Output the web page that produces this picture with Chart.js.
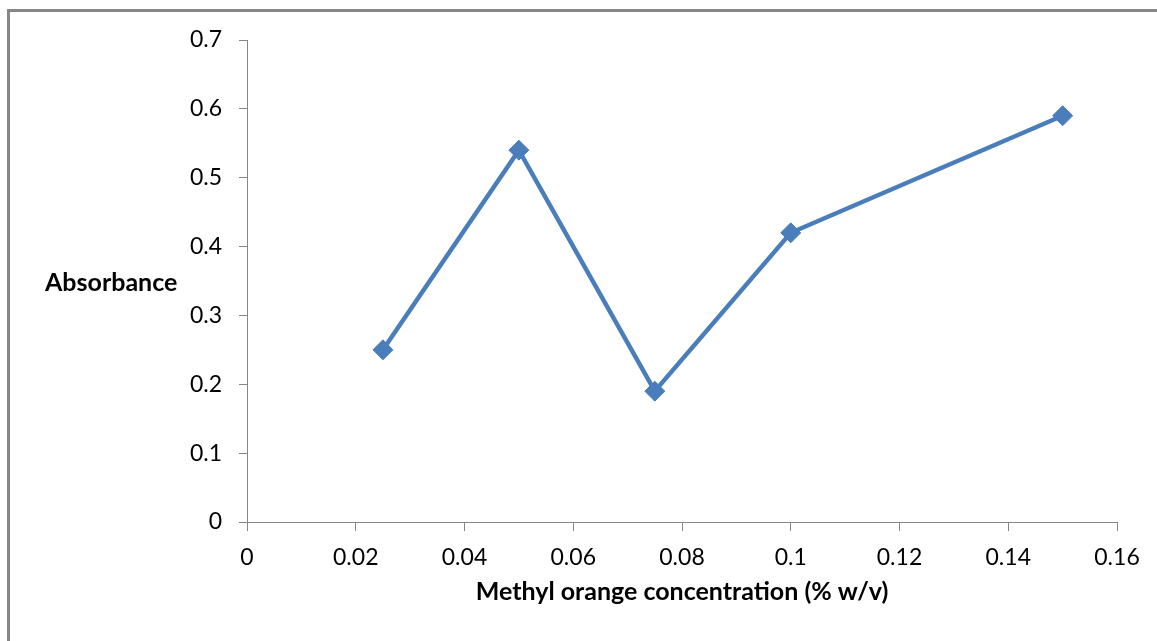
<!DOCTYPE html>
<html lang="en">
<head>
    <meta charset="UTF-8">
    <title>Absorbance vs Methyl orange concentration</title>
    <script src="https://cdn.jsdelivr.net/npm/chart.js@4.4.1/dist/chart.umd.min.js"></script>
    <style>
        html, body { margin: 0; padding: 0; background: #fff; }
        #wrap { position: relative; width: 1157px; height: 641px; }
        #frame {
            position: absolute; left: 7px; top: 9px; right: 0; bottom: 0;
            border-top: 3px solid #868686; border-left: 3px solid #868686;
            pointer-events: none;
        }
    </style>
</head>
<body>
<div id="wrap">
    <canvas id="chart"></canvas>
    <div id="frame"></div>
</div>
<script>
    // values
    const concentrations = [0.025, 0.05, 0.075, 0.1, 0.15]
    const absorbances = [0.25, 0.54, 0.19, 0.42, 0.59]

    const xTitle = 'Methyl orange concentration (% w/v)'
    const yTitle = 'Absorbance'

    const blue = '#4A7EBB'
    const axisGrey = '#868686'

    // trims trailing zeros, like Excel's General format (0.1 not 0.10)
    function general(value) {
        return String(Math.round(value * 1000) / 1000)
    }

    // Excel-style horizontal y-axis title, left of the axis
    const yTitlePlugin = {
        id: 'yTitle',
        afterDraw(chart) {
            const ctx = chart.ctx
            const area = chart.chartArea
            ctx.save()
            ctx.font = 'bold 25px Lato'
            ctx.fillStyle = '#000'
            ctx.textAlign = 'left'
            ctx.textBaseline = 'middle'
            ctx.fillText(yTitle, 45, (area.top + area.bottom) / 2 + 2)
            ctx.restore()
        }
    }

    let ctx = document.getElementById('chart').getContext('2d')
    let chart = new Chart(ctx, {
        type: 'scatter',
        data: {
            datasets: [{
                label: yTitle,
                data: concentrations.map((x, i) => ({x: x, y: absorbances[i]})),
                showLine: true,
                borderColor: blue,
                backgroundColor: blue,
                borderWidth: 4.5,
                pointStyle: 'rectRot',
                pointRadius: 10,
                pointBorderWidth: 1,
                pointBorderColor: blue,
                pointBackgroundColor: blue,
                tension: 0,
            }],
        },
        options: {
            responsive: true,
            maintainAspectRatio: false,
            animation: false,
            layout: {
                padding: {left: 0, right: 40, top: 40, bottom: 0},
            },
            plugins: {
                legend: {display: false},
                tooltip: {enabled: false},
            },
            scales: {
                x: {
                    type: 'linear',
                    min: 0,
                    max: 0.16,
                    ticks: {
                        stepSize: 0.02,
                        color: '#000',
                        font: {family: 'Lato', size: 23},
                        padding: 13,
                        callback: general,
                    },
                    grid: {
                        drawOnChartArea: false,
                        drawTicks: true,
                        tickLength: 9,
                        color: axisGrey,
                    },
                    border: {display: true, color: axisGrey, width: 1},
                    title: {
                        display: true,
                        text: xTitle,
                        color: '#000',
                        font: {family: 'Lato', size: 25, weight: 'bold'},
                        padding: {top: 0, bottom: 34},
                    },
                    afterFit(scale) {
                        scale.height = 119
                    },
                },
                y: {
                    type: 'linear',
                    min: 0,
                    max: 0.7,
                    ticks: {
                        stepSize: 0.1,
                        color: '#000',
                        font: {family: 'Lato', size: 23},
                        padding: 17,
                        callback: general,
                    },
                    grid: {
                        drawOnChartArea: false,
                        drawTicks: true,
                        tickLength: 8,
                        color: axisGrey,
                    },
                    border: {display: true, color: axisGrey, width: 1},
                    afterFit(scale) {
                        scale.width = 247
                    },
                },
            },
        },
        plugins: [yTitlePlugin],
    })
</script>
</body>
</html>
